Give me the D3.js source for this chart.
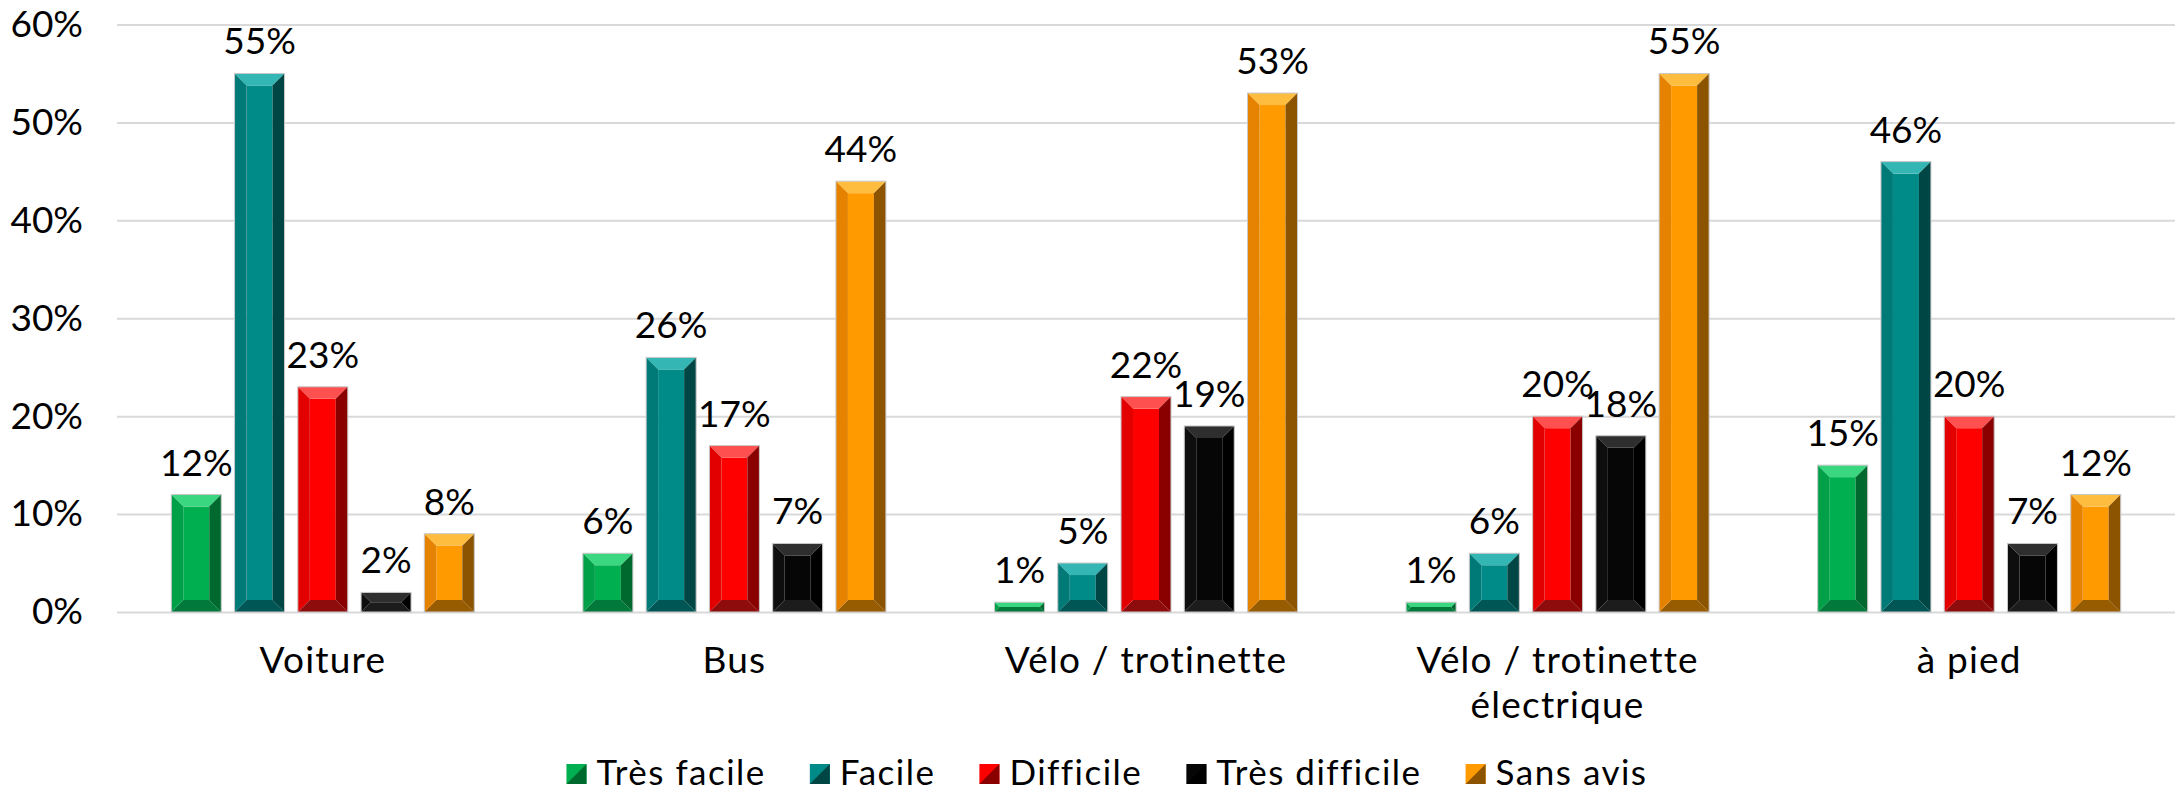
<!DOCTYPE html>
<html>
<head>
<meta charset="utf-8">
<script src="https://cdn.jsdelivr.net/npm/d3@7"></script>
<style>
    body { margin: 0; background: #fff; }
    text { font-family: Lato, "Open Sans", sans-serif; fill: #000; }
    .axis .domain { display: none; }
    .yAxis line { stroke: #d9d9d9; stroke-width: 2; }
</style>
</head>
<body>
<script>
//categories on the x axis
var categories = ["Voiture", "Bus", "Vélo / trotinette", "Vélo / trotinette électrique", "à pied"];

//series names (legend order)
var seriesNames = ["Très facile", "Facile", "Difficile", "Très difficile", "Sans avis"];

//values in percent, one array per series
var tresFacile = [12, 6, 1, 1, 15];
var facile = [55, 26, 5, 6, 46];
var difficile = [23, 17, 22, 20, 20];
var tresDifficile = [2, 7, 19, 18, 7];
var sansAvis = [8, 44, 53, 55, 12];

//y axis ticks
var yTicks = [0, 10, 20, 30, 40, 50, 60];

window.onload = function(){

    //svg size
    var w = 2176, h = 791;

    var svg = d3.select("body")
        .append("svg")
        .attr("width", w)
        .attr("height", h);

    //bevel colours per series: face, top, left, right, bottom
    var palette = {
        "Très facile":    {face: "#00b050", top: "#3bd680", left: "#00a049", right: "#006a2e", bottom: "#00793a"},
        "Facile":         {face: "#008b88", top: "#34b7b4", left: "#007a77", right: "#004644", bottom: "#005654"},
        "Difficile":      {face: "#ff0000", top: "#ff5050", left: "#e30000", right: "#8a0000", bottom: "#8e0c0c"},
        "Très difficile": {face: "#060606", top: "#2e2e2e", left: "#0e0e0e", right: "#000000", bottom: "#1c1c1c"},
        "Sans avis":      {face: "#ff9b00", top: "#ffbd40", left: "#e58300", right: "#8c5400", bottom: "#985c00"}
    };

    //build rows for the bars
    var seriesValues = [tresFacile, facile, difficile, tresDifficile, sansAvis];
    var bars = [];
    categories.forEach(function(c, i){
        seriesNames.forEach(function(s, j){
            bars.push({cat: c, series: s, value: seriesValues[j][i]});
        });
    });

    //scales
    var x0 = d3.scaleBand()
        .domain(categories)
        .range([117, 2175])
        .padding(0);

    var groupW = 303;
    var x1 = d3.scaleBand()
        .domain(seriesNames)
        .range([(x0.bandwidth() - groupW) / 2, (x0.bandwidth() + groupW) / 2])
        .paddingInner(0.21)
        .paddingOuter(0);

    var y = d3.scaleLinear()
        .domain([0, 60])
        .range([612, 24.5]);

    //y axis with gridlines
    var yAxis = d3.axisLeft(y)
        .tickValues(yTicks)
        .tickFormat(function(d){ return d + "%"; })
        .tickSize(-(2175 - 117))
        .tickPadding(34);

    svg.append("g")
        .attr("class", "axis yAxis")
        .attr("transform", "translate(117,0)")
        .call(yAxis)
        .selectAll("text")
        .style("font-size", "37px");

    //x axis category labels
    var xAxis = d3.axisBottom(x0)
        .tickSize(0)
        .tickPadding(35);

    var xg = svg.append("g")
        .attr("class", "axis xAxis")
        .attr("transform", "translate(0,612)")
        .call(xAxis);

    xg.selectAll("text")
        .style("font-size", "37px")
        .style("letter-spacing", "1.2px")
        .call(wrap, 380);

    //bars drawn as bevelled shapes
    var barG = svg.selectAll(".bar")
        .data(bars)
        .enter()
        .append("g")
        .attr("class", "bar");

    barG.each(function(d){
        var g = d3.select(this);
        var bx = x0(d.cat) + x1(d.series);
        var bw = x1.bandwidth();
        var by = y(d.value);
        var bh = y(0) - by;
        var b = Math.min(12, bw / 2, bh / 2);
        var col = palette[d.series];

        function poly(pts, fill){
            g.append("polygon")
                .attr("points", pts.map(function(p){ return p.join(","); }).join(" "))
                .attr("fill", fill);
        }
        //face
        g.append("rect")
            .attr("x", bx + b)
            .attr("y", by + b)
            .attr("width", bw - 2 * b)
            .attr("height", Math.max(0, bh - 2 * b))
            .attr("fill", col.face);
        //top
        poly([[bx, by], [bx + bw, by], [bx + bw - b, by + b], [bx + b, by + b]], col.top);
        //bottom
        poly([[bx, by + bh], [bx + bw, by + bh], [bx + bw - b, by + bh - b], [bx + b, by + bh - b]], col.bottom);
        //left
        poly([[bx, by], [bx + b, by + b], [bx + b, by + bh - b], [bx, by + bh]], col.left);
        //right
        poly([[bx + bw, by], [bx + bw - b, by + b], [bx + bw - b, by + bh - b], [bx + bw, by + bh]], col.right);
        //thin outline
        g.append("rect")
            .attr("x", bx)
            .attr("y", by)
            .attr("width", bw)
            .attr("height", bh)
            .attr("fill", "none")
            .attr("stroke", "#c8c8c8")
            .attr("stroke-width", 1);
    });

    //value labels
    svg.selectAll(".valueLabel")
        .data(bars)
        .enter()
        .append("text")
        .attr("class", "valueLabel")
        .attr("text-anchor", "middle")
        .attr("x", function(d){ return x0(d.cat) + x1(d.series) + x1.bandwidth() / 2; })
        .attr("y", function(d){ return y(d.value) - 19; })
        .style("font-size", "37px")
        .text(function(d){ return d.value + "%"; });

    //legend
    var legend = svg.append("g").attr("class", "legend");
    var lx = 0;
    seriesNames.forEach(function(s){
        var item = legend.append("g").attr("transform", "translate(" + lx + ",0)");
        var col = palette[s];
        item.append("rect")
            .attr("x", 0).attr("y", 764)
            .attr("width", 20).attr("height", 20)
            .attr("fill", col.face);
        item.append("polygon")
            .attr("points", "20,764 20,784 0,784")
            .attr("fill", col.right);
        var t = item.append("text")
            .attr("x", 30)
            .attr("y", 785)
            .style("font-size", "35px")
            .style("letter-spacing", "1.5px")
            .text(s);
        lx += 30 + t.node().getComputedTextLength() + 44;
    });
    var legendW = lx - 44;
    legend.attr("transform", "translate(" + (1107 - legendW / 2) + ",0)");

    //wrap long category labels on several lines
    function wrap(texts, width){
        texts.each(function(){
            var text = d3.select(this);
            var words = text.text().split(/\s+/);
            var yPos = text.attr("y");
            text.text(null);
            var line = [];
            var lineNo = 0;
            var tspan = text.append("tspan").attr("x", 0).attr("y", yPos).attr("dy", "0.71em");
            words.forEach(function(word){
                line.push(word);
                tspan.text(line.join(" "));
                if (tspan.node().getComputedTextLength() > width && line.length > 1){
                    line.pop();
                    tspan.text(line.join(" "));
                    line = [word];
                    lineNo++;
                    tspan = text.append("tspan")
                        .attr("x", 0)
                        .attr("y", yPos)
                        .attr("dy", (0.71 + lineNo * 1.2) + "em")
                        .text(word);
                }
            });
        });
    }
};
</script>
</body>
</html>
